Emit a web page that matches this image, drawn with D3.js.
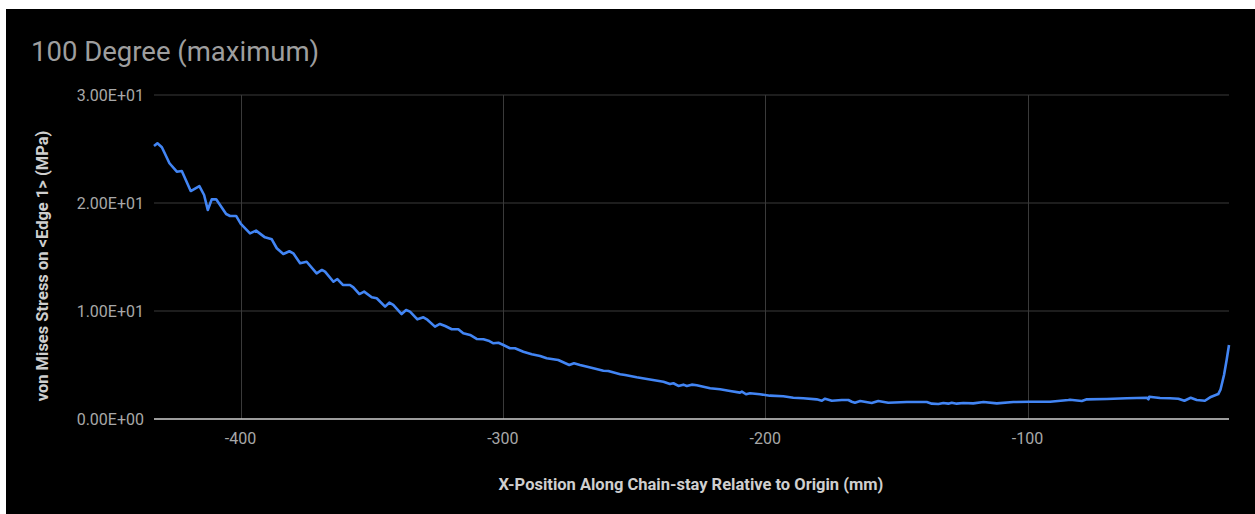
<!DOCTYPE html>
<html>
<head>
<meta charset="utf-8">
<script src="https://cdn.jsdelivr.net/npm/d3@7"></script>
<style>
  html, body { margin: 0; padding: 0; background: #fff; }
  svg { display: block; }
  text { font-family: Roboto, "Noto Sans", sans-serif; }
</style>
</head>
<body>
<svg id="chart" width="1255" height="514"></svg>
<script>
// position along chain-stay (mm)
var xPos = [-433.0, -431.7, -430.0, -427.1, -424.3, -422.4, -419.0, -415.7, -413.9, -412.5,
  -411.0, -409.3, -405.5, -404.0, -401.7, -399.9, -396.4, -394.1, -390.7, -388.1,
  -386.2, -383.7, -381.4, -379.9, -377.3, -374.8, -371.0, -369.0, -367.8, -364.6,
  -363.1, -361.0, -358.3, -357.0, -354.7, -352.9, -350.0, -348.1, -344.9, -343.3,
  -341.8, -338.6, -336.9, -335.4, -332.6, -330.3, -329.0, -325.9, -324.0, -322.0,
  -319.5, -317.0, -315.1, -312.5, -310.0, -307.4, -305.5, -303.6, -301.7, -299.8,
  -297.3, -295.4, -292.2, -289.0, -285.8, -283.3, -280.8, -278.9, -274.7, -272.9,
  -270.6, -265.5, -261.7, -259.8, -255.3, -253.4, -249.0, -244.5, -238.8, -236.3,
  -235.0, -233.1, -231.2, -229.9, -228.0, -226.1, -221.0, -217.2, -213.4, -209.6,
  -208.9, -207.3, -205.8, -202.0, -198.2, -193.1, -189.3, -185.5, -180.4, -178.4,
  -177.2, -174.6, -170.8, -168.3, -167.0, -165.8, -163.8, -159.4, -156.9, -153.1,
  -146.0, -138.4, -136.5, -134.0, -132.1, -130.2, -128.9, -127.0, -124.5, -120.7,
  -116.8, -111.7, -105.4, -99.0, -91.4, -84.4, -83.8, -79.3, -77.4, -69.8,
  -62.2, -54.5, -53.9, -53.6, -49.5, -45.7, -42.5, -40.2, -37.8, -35.5,
  -32.4, -30.4, -27.3, -26.4, -25.1, -24.1, -23.2];

// von Mises stress (MPa)
var stress = [25.28, 25.53, 25.16, 23.68, 22.90, 22.96, 21.11, 21.57, 20.74, 19.35,
  20.34, 20.34, 18.98, 18.80, 18.80, 18.06, 17.19, 17.44, 16.82, 16.64,
  15.81, 15.28, 15.53, 15.34, 14.42, 14.56, 13.49, 13.80, 13.64, 12.71,
  12.96, 12.41, 12.41, 12.19, 11.57, 11.79, 11.27, 11.18, 10.40, 10.77,
  10.56, 9.72, 10.09, 9.94, 9.23, 9.42, 9.23, 8.55, 8.80, 8.61,
  8.31, 8.31, 7.94, 7.78, 7.41, 7.38, 7.25, 7.01, 7.06, 6.85,
  6.55, 6.55, 6.23, 5.99, 5.83, 5.62, 5.53, 5.46, 5.00, 5.16,
  5.00, 4.69, 4.47, 4.44, 4.14, 4.07, 3.86, 3.68, 3.45, 3.24,
  3.31, 3.06, 3.18, 3.06, 3.18, 3.12, 2.84, 2.75, 2.59, 2.44,
  2.53, 2.29, 2.38, 2.29, 2.16, 2.10, 1.97, 1.92, 1.82, 1.69,
  1.88, 1.69, 1.76, 1.76, 1.60, 1.51, 1.67, 1.48, 1.67, 1.51,
  1.57, 1.57, 1.42, 1.39, 1.48, 1.42, 1.51, 1.42, 1.48, 1.45,
  1.57, 1.45, 1.57, 1.60, 1.60, 1.76, 1.79, 1.67, 1.82, 1.85,
  1.92, 1.97, 1.82, 2.06, 1.94, 1.92, 1.88, 1.69, 1.97, 1.76,
  1.69, 2.01, 2.31, 2.75, 4.07, 5.46, 6.85];

var xTicks = [-400, -300, -200, -100];
var yTicks = [0, 10, 20, 30];

var title = "100 Degree (maximum)";
var xTitle = "X-Position Along Chain-stay Relative to Origin (mm)";
var yTitle = "von Mises Stress on <Edge 1> (MPa)";

var svg = d3.select("#chart");

var margin = { top: 95, right: 26, bottom: 95, left: 154 },
  width = +svg.attr("width") - margin.left - margin.right,
  height = +svg.attr("height") - margin.top - margin.bottom;

// black card
svg.append("rect")
  .attr("x", 6).attr("y", 9)
  .attr("width", 1249).attr("height", 505)
  .attr("fill", "#000");

svg.append("text")
  .attr("x", 31).attr("y", 61)
  .attr("fill", "#9e9e9e")
  .style("font-size", "27.5px")
  .text(title);

var data = xPos.map(function (d, i) { return { x: d, y: stress[i] }; });

var x = d3.scaleLinear()
  .domain(d3.extent(xPos))
  .range([0, width]);

var y = d3.scaleLinear()
  .domain([0, 30])
  .range([height, 0]);

var g = svg.append("g")
  .attr("transform", "translate(" + margin.left + "," + margin.top + ")");

// grid
g.append("g").selectAll("line.h")
  .data(yTicks.filter(function (d) { return d !== 0; }))
  .enter().append("line")
  .attr("x1", 0).attr("x2", width)
  .attr("y1", function (d) { return y(d); })
  .attr("y2", function (d) { return y(d); })
  .attr("stroke", "#3a3a3a")
  .attr("stroke-width", 1);

g.append("g").selectAll("line.v")
  .data(xTicks)
  .enter().append("line")
  .attr("x1", function (d) { return Math.round(x(d)) + 0.5; })
  .attr("x2", function (d) { return Math.round(x(d)) + 0.5; })
  .attr("y1", 0).attr("y2", height)
  .attr("stroke", "#3a3a3a")
  .attr("stroke-width", 1);

// y tick labels
g.append("g").selectAll("text")
  .data(yTicks)
  .enter().append("text")
  .attr("x", -10)
  .attr("y", function (d) { return y(d); })
  .attr("dy", "0.35em")
  .attr("text-anchor", "end")
  .attr("fill", "#a8a8a8")
  .style("font-size", "16px")
  .text(function (d) { return d3.format(".2e")(d).replace("e", "E").replace(/E([+-])(\d)$/, "E$10$2").toUpperCase(); });

// x tick labels
g.append("g").selectAll("text")
  .data(xTicks)
  .enter().append("text")
  .attr("x", function (d) { return x(d); })
  .attr("y", height + 25)
  .attr("text-anchor", "middle")
  .attr("fill", "#a8a8a8")
  .style("font-size", "16px")
  .text(function (d) { return d; });

// baseline
g.append("line")
  .attr("x1", 0).attr("x2", width)
  .attr("y1", y(0)).attr("y2", y(0))
  .attr("stroke", "#d0d0d0")
  .attr("stroke-width", 1.5);

// series
var line = d3.line()
  .x(function (d) { return x(d.x); })
  .y(function (d) { return y(d.y); });

g.append("path")
  .datum(data)
  .attr("fill", "none")
  .attr("stroke", "#4285f4")
  .attr("stroke-width", 2.6)
  .attr("stroke-linejoin", "round")
  .attr("d", line);

// axis titles
svg.append("text")
  .attr("x", 691).attr("y", 490)
  .attr("text-anchor", "middle")
  .attr("fill", "#cfcfcf")
  .style("font-size", "16.5px")
  .style("font-weight", "bold")
  .text(xTitle);

svg.append("text")
  .attr("transform", "translate(48,266) rotate(-90)")
  .attr("text-anchor", "middle")
  .attr("fill", "#cfcfcf")
  .style("font-size", "16.5px")
  .style("font-weight", "bold")
  .text(yTitle);
</script>
</body>
</html>
